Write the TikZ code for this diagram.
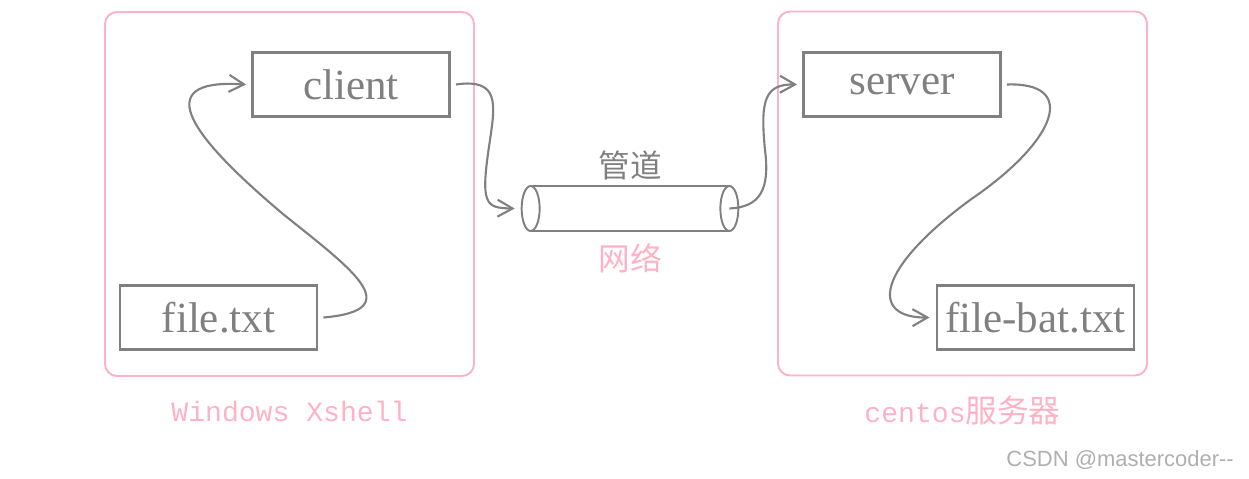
\documentclass[tikz,border=0pt]{standalone}
\usepackage{fontspec}
\setmainfont{Liberation Serif}
\setmonofont{Liberation Mono}
\newfontfamily\cjk{Noto Sans CJK SC}
\newfontfamily\wmfont{Liberation Sans}
\usepackage{xcolor}
\usepackage{tikz}
\usetikzlibrary{arrows.meta,positioning}
\definecolor{linegray}{RGB}{128,128,128}
\definecolor{softpink}{RGB}{255,178,198}
\definecolor{wmgray}{RGB}{175,175,175}
\tikzset{
  host/.style={rectangle,rounded corners=2.4mm,draw=softpink,line width=1.1pt,
              minimum width=73.8mm,minimum height=72.8mm},
  box/.style={rectangle,draw=linegray,line width=1.6pt,inner sep=0pt,
              minimum width=39.4mm,minimum height=12.8mm,text=linegray,
              font=\fontsize{24.5}{28}\selectfont},
  hostlabel/.style={text=softpink,font=\fontsize{16}{19}\selectfont\ttfamily},
  pipelabel/.style={font=\fontsize{18}{21}\selectfont\cjk},
  flow/.style={-{Straight Barb[length=3mm,width=3.4mm]},line width=1.2pt,draw=linegray},
}
\begin{document}
\begin{tikzpicture}[x=0.2mm,y=-0.2mm,
   tube/.style={draw=linegray,line width=1.1pt}]
  \useasboundingbox (0,0) rectangle (1249,478);
  \node[host] (win) at (289.5,194) {};
  \node[host] (centos) at (962.5,193.5) {};
  \node[hostlabel,below=3.6mm of win] (winname) {Windows Xshell};
  \node[hostlabel,below=2.6mm of centos] (centosname) {centos{\cjk\fontsize{18}{21}\selectfont 服务器}};

  \node[box] (client) at (351,84.5) {client};
  \node[box] (file) at (218.5,317.5) {file.txt};
  \node[box] (server) at (902,84.5) {server};
  \node[box] (filebat) at (1035.5,317.5) {file-bat.txt};

  % pipe between the two hosts
  \node[minimum width=39.6mm,minimum height=9mm,inner sep=0pt] (pipe) at (630,208.5) {};
  \draw[tube] (pipe.north west) -- (pipe.north east) (pipe.south west) -- (pipe.south east);
  \draw[tube] (pipe.west) ellipse [x radius=1.8mm,y radius=4.5mm];
  \draw[tube] (pipe.east) ellipse [x radius=1.8mm,y radius=4.5mm];
  \node[pipelabel,text=linegray] (pipename) at (630,165) {管道};
  \node[pipelabel,text=softpink] (netname) at (630,258) {网络};

  \draw[flow] ([xshift=1mm]file.east) .. controls (410,310) and (350,268) .. (283,214)
     .. controls (195,140) and (145,78) .. ([xshift=-1mm]client.west);
  \draw[flow] ([xshift=1mm]client.east) .. controls (500,78) and (495,105) .. (490,140)
     .. controls (480,205) and (485,208) .. ([xshift=-3.2mm]pipe.west);
  \draw[flow] (pipe.east) .. controls (760,207) and (770,190) .. (765,150)
     .. controls (760,100) and (765,84) .. ([xshift=-1mm]server.west);
  \draw[flow] ([xshift=1mm]server.east) .. controls (1078,82) and (1058,140) .. (970,200)
     .. controls (875,270) and (870,318) .. ([xshift=-1.2mm]filebat.west);

  \node[anchor=east,text=wmgray,font=\fontsize{12.5}{15}\selectfont\wmfont] (mark) at (1240,460) {CSDN @mastercoder--};
\end{tikzpicture}
\end{document}
